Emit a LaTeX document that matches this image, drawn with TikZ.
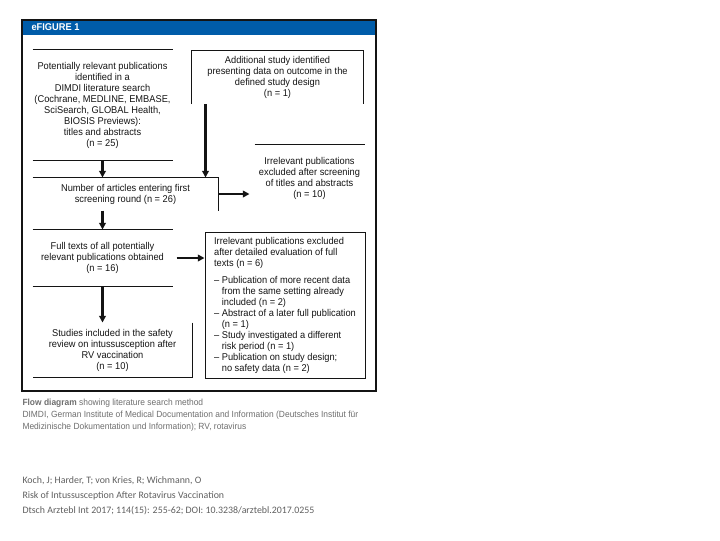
\documentclass[tikz,border=0pt]{standalone}
\usepackage{fontspec}
\setmainfont{Liberation Sans}[FakeStretch=0.94]
\newfontfamily\footfont{Carlito}
\usetikzlibrary{arrows.meta,calc}

\definecolor{hdrblue}{RGB}{0,92,169}
\definecolor{capgray}{RGB}{110,110,110}
\definecolor{footgray}{RGB}{95,95,95}
\definecolor{inkgray}{RGB}{20,20,20}

\tikzset{every picture/.style={line width=0.75pt}}
\tikzset{
  boxtext/.style={inner sep=0pt, align=center, text=inkgray, font=\fontsize{7.4}{8.25}\selectfont},
  boxline/.style={draw=inkgray, line width=0.75pt},
  flowarrow/.style={draw=inkgray, line width=2pt, -{Triangle[length=5pt,width=5pt]}},
  captext/.style={inner sep=0pt, anchor=west, text=capgray, font=\fontsize{6.72}{9}\selectfont},
  foottext/.style={inner sep=0pt, anchor=west, text=footgray, font=\footfont\fontsize{7.4}{9}\selectfont},
}

\begin{document}
\begin{tikzpicture}[x=0.75pt,y=0.75pt,yscale=-1,xscale=1]
\useasboundingbox (0,0) rectangle (720,540);

%Shape: Header bar
\fill[hdrblue] (22,20) rectangle (376,35);
\node[inner sep=0pt, anchor=west, text=white, font=\fontsize{7.4}{9}\selectfont\bfseries] (title) at (31,27.5) {eFIGURE 1};
%Shape: Frame
\draw[inkgray, line width=1.5pt] (22,20) rectangle (376,391);

%Boxes
\node[boxtext, minimum width=104.25pt, minimum height=82.5pt] (pub) at (102.5,105) {Potentially relevant publications\\identified in a\\DIMDI literature search\\(Cochrane, MEDLINE, EMBASE,\\SciSearch, GLOBAL Health,\\BIOSIS Previews):\\titles and abstracts\\(n = 25)};
\node[boxtext, minimum width=128.25pt, minimum height=39.75pt] (addl) at (277.5,77) {Additional study identified\\presenting data on outcome in the\\defined study design\\(n = 1)};
\node[boxtext, minimum width=138.75pt, minimum height=24pt] (first) at (125.5,194) {Number of articles entering first\\screening round (n = 26)};
\node[boxtext, minimum width=81.75pt, minimum height=50.25pt] (scr) at (309.5,178.5) {Irrelevant publications\\excluded after screening\\of titles and abstracts\\(n = 10)};
\node[boxtext, minimum width=104.25pt, minimum height=42pt] (full) at (102.5,258) {Full texts of all potentially\\relevant publications obtained\\(n = 16)};
\node[boxtext, align=left, draw=inkgray, minimum width=120pt, minimum height=109.5pt] (detail) at (285,305) {Irrelevant publications excluded\\after detailed evaluation of full\\texts (n = 6)\\[4.5pt]– Publication of more recent data\\\phantom{– }from the same setting already\\\phantom{– }included (n = 2)\\– Abstract of a later full publication\\\phantom{– }(n = 1)\\– Study investigated a different\\\phantom{– }risk period (n = 1)\\– Publication on study design;\\\phantom{– }no safety data (n = 2)};
\node[boxtext, minimum width=119.25pt, minimum height=40.5pt] (incl) at (112.5,350) {Studies included in the safety\\review on intussusception after\\RV vaccination\\(n = 10)};

%Straight Lines
\draw[boxline] (pub.north west) -- (pub.north east);
\draw[boxline] (pub.south west) -- (pub.south east);
\draw[boxline] (addl.south west) -- (addl.north west) -- (addl.north east) -- (addl.south east);
\draw[boxline] (first.north west) -- (first.north east) -- (first.south east);
\draw[boxline] (scr.north west) -- (scr.north east);
\draw[boxline] (full.north west) -- (full.north east);
\draw[boxline] (full.south west) -- (full.south east);
\draw[boxline] (incl.north east) -- (incl.south east) -- (incl.south west);

%Arrows
\coordinate (addlfoot) at ($(first.north east)+(-13,0)$);
\draw[flowarrow] (pub.south) -- (pub.south |- first.north);
\draw[flowarrow] (addl.south -| addlfoot) -- (addlfoot);
\draw[flowarrow, shorten >=3.75pt] (first.east) -- (first.east -| scr.west);
\draw[flowarrow] (pub.south |- first.south) -- (full.north);
\draw[flowarrow, shorten <=3pt] (full.east) -- (full.east -| detail.west);
\draw[flowarrow] (full.south) -- (full.south |- incl.north);

%Caption
\node[captext] (cap1) at (22,403) {\textbf{Flow diagram} showing literature search method};
\node[captext] (cap2) at (22,415) {DIMDI, German Institute of Medical Documentation and Information (Deutsches Institut für};
\node[captext] (cap3) at (22,427) {Medizinische Dokumentation und Information); RV, rotavirus};

%Source
\node[foottext] (src1) at (22,481) {Koch, J; Harder, T; von Kries, R; Wichmann, O};
\node[foottext] (src2) at (22,496) {Risk of Intussusception After Rotavirus Vaccination};
\node[foottext] (src3) at (22,511) {Dtsch Arztebl Int 2017; 114(15): 255-62; DOI: 10.3238/arztebl.2017.0255};

\end{tikzpicture}
\end{document}
